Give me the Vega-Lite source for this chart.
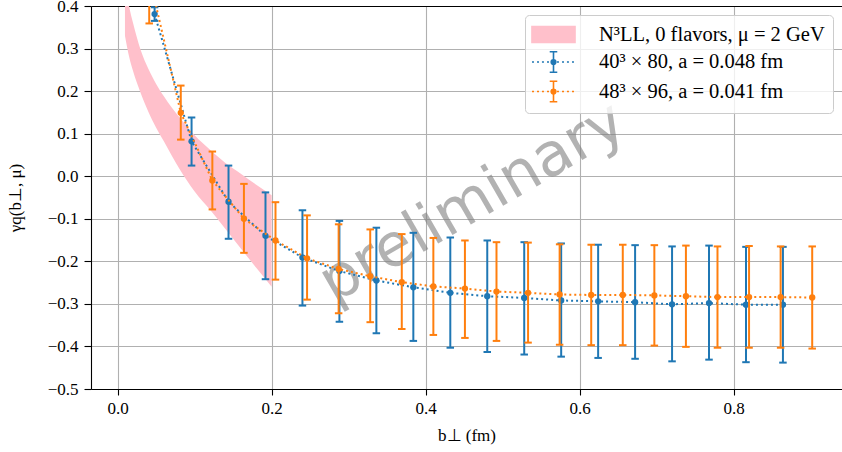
{
  "$schema": "https://vega.github.io/schema/vega-lite/v6.json",
  "width": 751,
  "height": 383,
  "autosize": {"type": "none"},
  "padding": {"left": 91, "top": 6, "right": 0, "bottom": 63},
  "background": "white",
  "config": {
    "font": "Liberation Serif",
    "view": {"stroke": null},
    "axis": {
      "labelFont": "Liberation Serif", "labelFontSize": 17, "labelColor": "black",
      "titleFont": "Liberation Serif", "titleFontSize": 17, "titleFontWeight": "normal", "titleColor": "black",
      "domainColor": "black", "domainWidth": 1.1, "tickColor": "black", "tickWidth": 1.1, "tickSize": 6,
      "gridColor": "#b0b0b0", "gridWidth": 1.1, "labelPadding": 4
    },
    "legend": {
      "labelFont": "Liberation Serif", "labelFontSize": 20.5, "labelColor": "black", "labelLimit": 0,
      "fillColor": "rgba(255,255,255,0.8)", "strokeColor": "#cccccc", "cornerRadius": 4,
      "padding": 8, "rowPadding": 2.5, "symbolSize": 441, "symbolStrokeWidth": 1.6, "symbolOpacity": 1,
      "symbolOffset": 9, "labelOffset": 34, "offset": 9
    }
  },
  "datasets": {
    "band": [
      {"b": 0.0095, "lower": 0.33, "upper": 0.46, "series": "N³LL, 0 flavors, μ = 2 GeV"},
      {"b": 0.015, "lower": 0.28, "upper": 0.398, "series": "N³LL, 0 flavors, μ = 2 GeV"},
      {"b": 0.02, "lower": 0.247, "upper": 0.36, "series": "N³LL, 0 flavors, μ = 2 GeV"},
      {"b": 0.03, "lower": 0.195, "upper": 0.296, "series": "N³LL, 0 flavors, μ = 2 GeV"},
      {"b": 0.04, "lower": 0.151, "upper": 0.252, "series": "N³LL, 0 flavors, μ = 2 GeV"},
      {"b": 0.05, "lower": 0.114, "upper": 0.217, "series": "N³LL, 0 flavors, μ = 2 GeV"},
      {"b": 0.06, "lower": 0.082, "upper": 0.188, "series": "N³LL, 0 flavors, μ = 2 GeV"},
      {"b": 0.08, "lower": 0.018, "upper": 0.139, "series": "N³LL, 0 flavors, μ = 2 GeV"},
      {"b": 0.10, "lower": -0.036, "upper": 0.096, "series": "N³LL, 0 flavors, μ = 2 GeV"},
      {"b": 0.12, "lower": -0.079, "upper": 0.062, "series": "N³LL, 0 flavors, μ = 2 GeV"},
      {"b": 0.14, "lower": -0.124, "upper": 0.031, "series": "N³LL, 0 flavors, μ = 2 GeV"},
      {"b": 0.16, "lower": -0.17, "upper": 0.006, "series": "N³LL, 0 flavors, μ = 2 GeV"},
      {"b": 0.18, "lower": -0.215, "upper": -0.020, "series": "N³LL, 0 flavors, μ = 2 GeV"},
      {"b": 0.20, "lower": -0.260, "upper": -0.045, "series": "N³LL, 0 flavors, μ = 2 GeV"}
    ],
    "s40": [
      {"b": 0.048, "val": 0.381, "lo": 0.365, "hi": 0.397, "series": "40³ × 80, a = 0.048 fm"},
      {"b": 0.096, "val": 0.082, "lo": 0.025, "hi": 0.138, "series": "40³ × 80, a = 0.048 fm"},
      {"b": 0.144, "val": -0.060, "lo": -0.147, "hi": 0.025, "series": "40³ × 80, a = 0.048 fm"},
      {"b": 0.192, "val": -0.140, "lo": -0.242, "hi": -0.038, "series": "40³ × 80, a = 0.048 fm"},
      {"b": 0.240, "val": -0.191, "lo": -0.304, "hi": -0.080, "series": "40³ × 80, a = 0.048 fm"},
      {"b": 0.288, "val": -0.223, "lo": -0.342, "hi": -0.105, "series": "40³ × 80, a = 0.048 fm"},
      {"b": 0.336, "val": -0.245, "lo": -0.369, "hi": -0.121, "series": "40³ × 80, a = 0.048 fm"},
      {"b": 0.384, "val": -0.261, "lo": -0.387, "hi": -0.133, "series": "40³ × 80, a = 0.048 fm"},
      {"b": 0.432, "val": -0.274, "lo": -0.403, "hi": -0.144, "series": "40³ × 80, a = 0.048 fm"},
      {"b": 0.480, "val": -0.282, "lo": -0.413, "hi": -0.151, "series": "40³ × 80, a = 0.048 fm"},
      {"b": 0.528, "val": -0.286, "lo": -0.419, "hi": -0.155, "series": "40³ × 80, a = 0.048 fm"},
      {"b": 0.576, "val": -0.292, "lo": -0.424, "hi": -0.158, "series": "40³ × 80, a = 0.048 fm"},
      {"b": 0.624, "val": -0.294, "lo": -0.427, "hi": -0.161, "series": "40³ × 80, a = 0.048 fm"},
      {"b": 0.672, "val": -0.296, "lo": -0.429, "hi": -0.162, "series": "40³ × 80, a = 0.048 fm"},
      {"b": 0.720, "val": -0.301, "lo": -0.435, "hi": -0.165, "series": "40³ × 80, a = 0.048 fm"},
      {"b": 0.768, "val": -0.298, "lo": -0.431, "hi": -0.163, "series": "40³ × 80, a = 0.048 fm"},
      {"b": 0.816, "val": -0.302, "lo": -0.437, "hi": -0.166, "series": "40³ × 80, a = 0.048 fm"},
      {"b": 0.864, "val": -0.302, "lo": -0.438, "hi": -0.166, "series": "40³ × 80, a = 0.048 fm"}
    ],
    "s48": [
      {"b": 0.041, "val": 0.47, "lo": 0.359, "hi": 0.58, "series": "48³ × 96, a = 0.041 fm"},
      {"b": 0.082, "val": 0.149, "lo": 0.086, "hi": 0.213, "series": "48³ × 96, a = 0.041 fm"},
      {"b": 0.123, "val": -0.010, "lo": -0.078, "hi": 0.058, "series": "48³ × 96, a = 0.041 fm"},
      {"b": 0.164, "val": -0.100, "lo": -0.180, "hi": -0.018, "series": "48³ × 96, a = 0.041 fm"},
      {"b": 0.205, "val": -0.151, "lo": -0.243, "hi": -0.061, "series": "48³ × 96, a = 0.041 fm"},
      {"b": 0.246, "val": -0.193, "lo": -0.290, "hi": -0.092, "series": "48³ × 96, a = 0.041 fm"},
      {"b": 0.287, "val": -0.218, "lo": -0.322, "hi": -0.113, "series": "48³ × 96, a = 0.041 fm"},
      {"b": 0.328, "val": -0.235, "lo": -0.343, "hi": -0.125, "series": "48³ × 96, a = 0.041 fm"},
      {"b": 0.369, "val": -0.249, "lo": -0.359, "hi": -0.136, "series": "48³ × 96, a = 0.041 fm"},
      {"b": 0.410, "val": -0.259, "lo": -0.373, "hi": -0.145, "series": "48³ × 96, a = 0.041 fm"},
      {"b": 0.451, "val": -0.264, "lo": -0.380, "hi": -0.151, "series": "48³ × 96, a = 0.041 fm"},
      {"b": 0.492, "val": -0.271, "lo": -0.387, "hi": -0.155, "series": "48³ × 96, a = 0.041 fm"},
      {"b": 0.533, "val": -0.274, "lo": -0.391, "hi": -0.156, "series": "48³ × 96, a = 0.041 fm"},
      {"b": 0.574, "val": -0.278, "lo": -0.396, "hi": -0.160, "series": "48³ × 96, a = 0.041 fm"},
      {"b": 0.615, "val": -0.279, "lo": -0.397, "hi": -0.161, "series": "48³ × 96, a = 0.041 fm"},
      {"b": 0.656, "val": -0.279, "lo": -0.397, "hi": -0.161, "series": "48³ × 96, a = 0.041 fm"},
      {"b": 0.697, "val": -0.280, "lo": -0.398, "hi": -0.162, "series": "48³ × 96, a = 0.041 fm"},
      {"b": 0.738, "val": -0.282, "lo": -0.401, "hi": -0.163, "series": "48³ × 96, a = 0.041 fm"},
      {"b": 0.779, "val": -0.284, "lo": -0.403, "hi": -0.165, "series": "48³ × 96, a = 0.041 fm"},
      {"b": 0.820, "val": -0.284, "lo": -0.403, "hi": -0.164, "series": "48³ × 96, a = 0.041 fm"},
      {"b": 0.861, "val": -0.284, "lo": -0.403, "hi": -0.165, "series": "48³ × 96, a = 0.041 fm"},
      {"b": 0.902, "val": -0.285, "lo": -0.405, "hi": -0.165, "series": "48³ × 96, a = 0.041 fm"}
    ],
    "note": [
      {"b": 0.461, "v": -0.062, "label": "preliminary"}
    ]
  },
  "resolve": {"axis": {"x": "independent"}},
  "layer": [
    {
      "data": {"name": "band"},
      "mark": {"type": "area", "clip": true, "opacity": 1, "interpolate": "monotone"},
      "encoding": {
        "x": {"field": "b", "type": "quantitative",
              "scale": {"domain": [-0.0346, 0.9407], "nice": false, "zero": false},
              "axis": {"orient": "bottom", "values": [0, 0.2, 0.4, 0.6, 0.8], "format": ".1f", "grid": true,
                       "title": "b⊥ (fm)", "titlePadding": 11, "labelPadding": 5, "domain": true}},
        "y": {"field": "lower", "type": "quantitative",
              "scale": {"domain": [-0.5, 0.4], "nice": false, "zero": false},
              "axis": {"values": [-0.5, -0.4, -0.3, -0.2, -0.1, 0.0, 0.1, 0.2, 0.3, 0.4], "format": ".1f", "domain": true,
                       "grid": true, "title": "γq(b⊥, μ)", "titlePadding": 23, "labelPadding": 6, "tickSize": 7}},
        "y2": {"field": "upper"},
        "color": {"field": "series", "type": "nominal",
                  "scale": {"domain": ["N³LL, 0 flavors, μ = 2 GeV", "40³ × 80, a = 0.048 fm", "48³ × 96, a = 0.041 fm"],
                            "range": ["#ffc0cb", "#1f77b4", "#ff7f0e"]},
                  "legend": {"title": null, "orient": "top-right"}}
      }
    },
    {
      "data": {"name": "note"},
      "mark": {"type": "text", "angle": 330, "fontSize": 60, "font": "DejaVu Sans", "fill": "#808080", "opacity": 0.6, "align": "center", "baseline": "middle"},
      "encoding": {
        "x": {"field": "b", "type": "quantitative",
              "axis": {"orient": "top", "labels": false, "ticks": false, "grid": false, "title": null, "domain": true, "domainColor": "black"}},
        "y": {"field": "v", "type": "quantitative"},
        "text": {"field": "label"}
      }
    },
    {
      "data": {"name": "s40"},
      "transform": [{"filter": "false"}],
      "mark": {"type": "point", "filled": true, "opacity": 1},
      "encoding": {
        "x": {"field": "b", "type": "quantitative", "axis": null},
        "y": {"field": "val", "type": "quantitative"},
        "color": {"field": "series", "type": "nominal"},
        "shape": {"field": "series", "type": "nominal",
                  "scale": {"domain": ["N³LL, 0 flavors, μ = 2 GeV", "40³ × 80, a = 0.048 fm", "48³ × 96, a = 0.041 fm"],
                            "range": [
                              "M-2.05,-0.76H2.05V0.76H-2.05Z",
                              "M-2.05,0h0.19M-1.57,0h0.19M-1.1,0h0.19M-0.62,0h0.19M-0.15,0h0.19M0.33,0h0.19M0.81,0h0.19M1.28,0h0.19M1.76,0h0.19M0,-0.98V0.98M-0.36,-0.98H0.36M-0.36,0.98H0.36M0.22,0A0.22,0.22,0,1,1,-0.22,0A0.22,0.22,0,1,1,0.22,0Z",
                              "M-2.05,0h0.19M-1.57,0h0.19M-1.1,0h0.19M-0.62,0h0.19M-0.15,0h0.19M0.33,0h0.19M0.81,0h0.19M1.28,0h0.19M1.76,0h0.19M0,-0.98V0.98M-0.36,-0.98H0.36M-0.36,0.98H0.36M0.22,0A0.22,0.22,0,1,1,-0.22,0A0.22,0.22,0,1,1,0.22,0Z"
                            ]},
                  "legend": {"title": null, "orient": "top-right"}}
      }
    },
    {
      "data": {"name": "s40"},
      "mark": {"type": "line", "clip": true, "strokeDash": [2, 3], "strokeWidth": 2},
      "encoding": {
        "x": {"field": "b", "type": "quantitative", "axis": null},
        "y": {"field": "val", "type": "quantitative"},
        "color": {"field": "series", "type": "nominal"}
      }
    },
    {
      "data": {"name": "s40"},
      "mark": {"type": "rule", "clip": true, "strokeWidth": 2},
      "encoding": {
        "x": {"field": "b", "type": "quantitative", "axis": null},
        "y": {"field": "lo", "type": "quantitative"},
        "y2": {"field": "hi"},
        "color": {"field": "series", "type": "nominal"}
      }
    },
    {
      "data": {"name": "s40"},
      "mark": {"type": "tick", "clip": true, "orient": "horizontal", "size": 7.5, "thickness": 2, "opacity": 1},
      "encoding": {
        "x": {"field": "b", "type": "quantitative", "axis": null},
        "y": {"field": "lo", "type": "quantitative"},
        "color": {"field": "series", "type": "nominal"}
      }
    },
    {
      "data": {"name": "s40"},
      "mark": {"type": "tick", "clip": true, "orient": "horizontal", "size": 7.5, "thickness": 2, "opacity": 1},
      "encoding": {
        "x": {"field": "b", "type": "quantitative", "axis": null},
        "y": {"field": "hi", "type": "quantitative"},
        "color": {"field": "series", "type": "nominal"}
      }
    },
    {
      "data": {"name": "s40"},
      "mark": {"type": "circle", "clip": true, "size": 40, "opacity": 1},
      "encoding": {
        "x": {"field": "b", "type": "quantitative", "axis": null},
        "y": {"field": "val", "type": "quantitative"},
        "color": {"field": "series", "type": "nominal"}
      }
    },
    {
      "data": {"name": "s48"},
      "mark": {"type": "line", "clip": true, "strokeDash": [2, 3], "strokeWidth": 2},
      "encoding": {
        "x": {"field": "b", "type": "quantitative", "axis": null},
        "y": {"field": "val", "type": "quantitative"},
        "color": {"field": "series", "type": "nominal"}
      }
    },
    {
      "data": {"name": "s48"},
      "mark": {"type": "rule", "clip": true, "strokeWidth": 2},
      "encoding": {
        "x": {"field": "b", "type": "quantitative", "axis": null},
        "y": {"field": "lo", "type": "quantitative"},
        "y2": {"field": "hi"},
        "color": {"field": "series", "type": "nominal"}
      }
    },
    {
      "data": {"name": "s48"},
      "mark": {"type": "tick", "clip": true, "orient": "horizontal", "size": 7.5, "thickness": 2, "opacity": 1},
      "encoding": {
        "x": {"field": "b", "type": "quantitative", "axis": null},
        "y": {"field": "lo", "type": "quantitative"},
        "color": {"field": "series", "type": "nominal"}
      }
    },
    {
      "data": {"name": "s48"},
      "mark": {"type": "tick", "clip": true, "orient": "horizontal", "size": 7.5, "thickness": 2, "opacity": 1},
      "encoding": {
        "x": {"field": "b", "type": "quantitative", "axis": null},
        "y": {"field": "hi", "type": "quantitative"},
        "color": {"field": "series", "type": "nominal"}
      }
    },
    {
      "data": {"name": "s48"},
      "mark": {"type": "circle", "clip": true, "size": 40, "opacity": 1},
      "encoding": {
        "x": {"field": "b", "type": "quantitative", "axis": null},
        "y": {"field": "val", "type": "quantitative"},
        "color": {"field": "series", "type": "nominal"}
      }
    }
  ]
}
